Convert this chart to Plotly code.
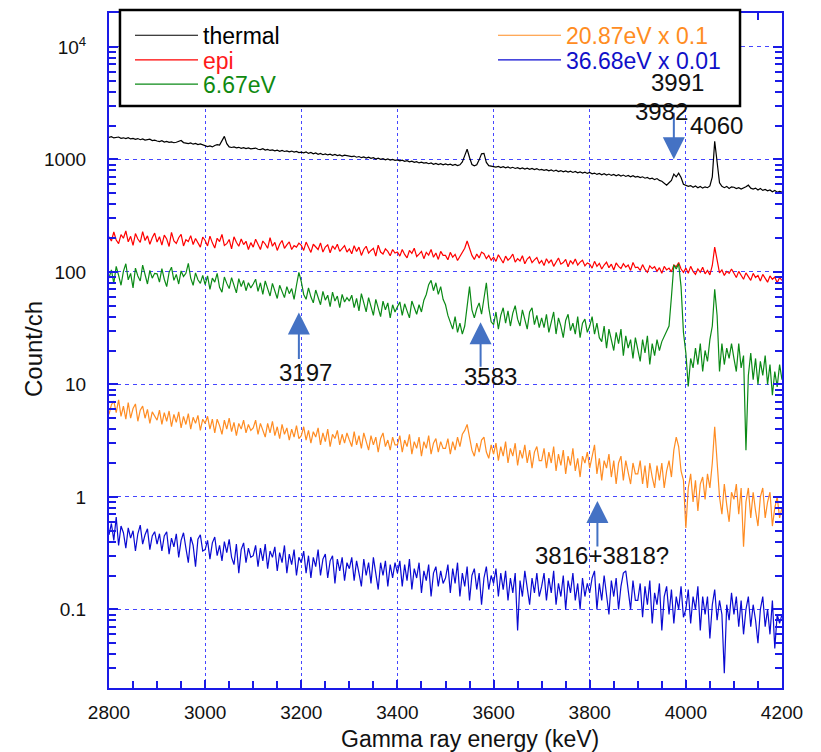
import math
import plotly.graph_objects as go

# Channel energies (keV), 5 keV bins
energy_kev = list(range(2800, 4201, 5))

# Count/ch per bin for each beam condition
thermal = [
    1570, 1590, 1550, 1565, 1580, 1540, 1555, 1530, 1560, 1520, 1535, 1505, 1530, 1495, 1520, 1485, 1500, 1510, 1470, 1480,
    1455, 1440, 1465, 1425, 1445, 1415, 1430, 1405, 1420, 1435, 1470, 1410, 1390, 1380, 1400, 1365, 1385, 1355, 1370, 1345,
    1325, 1300, 1315, 1290, 1330, 1350, 1340, 1480, 1600, 1380, 1290, 1275, 1290, 1265, 1280, 1255, 1270, 1245, 1265, 1240,
    1245, 1260, 1230, 1220, 1245, 1210, 1225, 1200, 1215, 1190, 1205, 1180, 1200, 1175, 1190, 1165, 1185, 1160, 1175, 1150,
    1160, 1145, 1165, 1130, 1150, 1120, 1140, 1110, 1130, 1100, 1120, 1095, 1110, 1085, 1105, 1080, 1095, 1070, 1090, 1075,
    1075, 1060, 1070, 1045, 1060, 1035, 1050, 1025, 1045, 1020, 1035, 1005, 1025, 1000, 1015, 990, 1010, 985, 1000, 980,
    990, 970, 985, 960, 975, 950, 965, 940, 955, 930, 945, 925, 935, 915, 930, 905, 920, 900, 915, 895,
    910, 895, 905, 885, 900, 880, 895, 950, 1080, 1230, 1040, 900, 875, 895, 990, 1120, 1130, 940, 880, 870,
    870, 855, 865, 845, 860, 840, 855, 835, 850, 830, 845, 825, 840, 820, 835, 815, 830, 810, 825, 805,
    815, 800, 810, 790, 805, 785, 800, 780, 795, 775, 790, 770, 785, 765, 780, 760, 775, 755, 770, 750,
    765, 745, 755, 735, 750, 730, 745, 725, 740, 720, 735, 715, 730, 710, 725, 705, 720, 700, 715, 695,
    705, 690, 700, 680, 690, 670, 680, 660, 675, 650, 640, 610, 590, 620, 650, 740, 700, 755, 690, 600,
    590, 575, 585, 565, 580, 560, 575, 555, 570, 560, 580, 700, 1450, 980, 620, 575, 560, 575, 550, 570,
    565, 550, 560, 545, 555, 570, 590, 555, 545, 555, 535, 550, 530, 540, 525, 535, 515, 530, 510, 520,
    510,
]

epi = [
    205, 188, 226, 192, 178, 214, 199, 231, 185, 207, 172, 219, 196, 183, 228, 190, 209, 176, 201, 221,
    184, 205, 173, 212, 196, 168, 224, 188, 179, 201, 215, 170, 193, 186, 210, 175, 198, 181, 166, 204,
    190, 170, 208, 181, 163, 199, 186, 215, 172, 178, 194, 160, 205, 183, 169, 196, 175, 187, 158, 182,
    166, 195, 172, 158, 188, 177, 162, 201, 169, 183, 155, 176, 190, 162, 174, 185, 158, 171, 166, 180,
    172, 155, 184, 163, 149, 176, 168, 158, 181, 150, 166, 174, 148, 170, 159, 176, 152, 163, 171, 150,
    160, 145, 171, 152, 166, 140, 158, 169, 147, 155, 162, 138, 173, 150, 144, 160, 152, 139, 158, 147,
    150, 138, 158, 143, 133, 155, 146, 162, 137, 144, 152, 131, 149, 141, 158, 135, 147, 129, 152, 140,
    140, 128, 149, 135, 143, 126, 138, 148, 162, 188, 165, 140, 129, 144, 133, 150, 145, 131, 140, 127,
    135, 124, 142, 129, 120, 138, 127, 133, 144, 122, 131, 125, 139, 118, 130, 136, 121, 128, 134, 119,
    126, 114, 131, 120, 128, 112, 124, 133, 117, 121, 129, 111, 126, 118, 130, 115, 122, 127, 113, 120,
    117, 108, 124, 112, 119, 106, 115, 122, 109, 117, 104, 120, 112, 107, 118, 110, 115, 103, 121, 109,
    110, 103, 116, 105, 99, 113, 107, 111, 101, 109, 97, 112, 104, 108, 100, 115, 111, 121, 106, 99,
    108, 97, 112, 101, 95, 106, 99, 110, 96, 103, 94, 114, 166, 128, 98, 104, 93, 101, 97, 106,
    96, 89, 101, 92, 86, 98, 91, 84, 97, 89, 93, 83, 95, 88, 81, 92, 86, 90, 80, 89,
    84,
]

res_6_67ev = [
    88, 104, 79, 112, 93, 76, 101, 118, 85, 97, 72, 108, 92, 83, 115, 94, 78, 103, 88, 97,
    96, 81, 107, 86, 74, 99, 110, 84, 95, 78, 102, 91, 97, 119, 88, 76, 98, 85, 79, 93,
    77, 92, 70, 88, 81, 97, 73, 66, 90, 79, 71, 89, 76, 65, 87, 74, 84, 68, 80, 72,
    78, 86, 67, 80, 63, 83, 71, 61, 79, 69, 58, 76, 66, 59, 74, 64, 71, 57, 76, 99,
    82, 63, 57, 72, 60, 53, 69, 58, 51, 67, 56, 62, 49, 66, 55, 61, 48, 63, 54, 59,
    55, 62, 48, 58, 45, 64, 52, 44, 59, 50, 41, 57, 48, 40, 55, 46, 53, 39, 51, 44,
    49, 54, 41, 52, 45, 39, 55, 47, 42, 51, 44, 56, 63, 77, 84, 68, 80, 63, 74, 57,
    51, 41, 36, 31, 40, 29, 35, 28, 33, 50, 74, 46, 39, 47, 53, 42, 61, 80, 48, 36,
    34, 44, 31, 41, 48, 35, 45, 33, 43, 50, 38, 33, 46, 37, 31, 44, 48, 34, 41, 32,
    39, 32, 42, 29, 36, 44, 28, 39, 33, 26, 37, 42, 30, 35, 28, 40, 26, 35, 38, 29,
    33, 40, 28, 35, 26, 24, 33, 21, 31, 25, 20, 29, 23, 31, 18, 27, 21, 25, 17, 26,
    21, 16, 25, 19, 27, 15, 23, 18, 25, 20, 24, 27, 30, 33, 60, 115, 106, 118, 74, 29,
    19, 9.6, 17, 14, 21, 15, 23, 13, 20, 16, 25, 33, 70, 41, 13, 23, 15, 21, 17, 23,
    17, 13, 23, 14, 18, 2.6, 12, 19, 11, 17, 10, 16, 12, 18, 10, 15, 8, 13, 9.5, 15,
    11,
]

res_20_87ev_x01 = [
    5.4, 6.6, 7.1, 5.6, 7.3, 5.2, 6.4, 4.9, 6.9, 5.0, 6.1, 6.7, 4.7, 5.9, 6.4, 5.0, 6.0, 4.5, 5.7, 5.2,
    4.8, 5.9, 4.4, 5.6, 4.7, 5.8, 4.2, 5.4, 4.6, 5.7, 4.1, 5.2, 4.4, 5.5, 4.0, 5.1, 4.5, 5.3, 3.9, 4.9,
    4.5, 5.2, 4.0, 4.9, 3.7, 4.9, 4.3, 3.6, 4.8, 4.0, 5.0, 3.8, 4.6, 3.5, 4.5, 4.0, 4.8, 3.7, 4.4, 3.9,
    4.1, 4.8, 3.6, 4.5, 3.9, 3.4, 4.5, 3.7, 4.7, 3.5, 4.2, 3.3, 4.4, 3.6, 4.1, 3.2, 4.0, 3.4, 4.3, 3.3,
    3.5, 4.2, 3.2, 3.9, 3.0, 3.8, 3.4, 4.1, 2.9, 3.7, 3.1, 4.0, 2.8, 3.6, 3.3, 3.9, 2.9, 3.6, 3.0, 3.7,
    3.2, 2.8, 3.8, 2.9, 3.5, 2.7, 3.7, 3.1, 2.6, 3.5, 2.9, 3.4, 2.5, 3.3, 3.7, 2.8, 3.2, 2.6, 3.4, 2.9,
    2.9, 3.5, 2.5, 3.2, 2.8, 3.6, 2.4, 3.1, 2.7, 3.4, 2.3, 3.1, 2.7, 3.5, 2.4, 3.0, 3.3, 2.5, 3.1, 2.7,
    2.7, 3.3, 2.4, 3.1, 2.6, 3.4, 2.8, 3.6, 3.9, 4.4, 3.3, 2.6, 2.3, 3.0, 2.5, 3.2, 3.4, 2.5, 2.2, 2.9,
    2.4, 3.0, 2.1, 2.8, 2.3, 3.1, 2.0, 2.7, 2.3, 3.0, 1.9, 2.6, 2.2, 2.9, 2.0, 2.6, 1.8, 2.5, 2.8, 2.1,
    2.1, 2.7, 1.8, 2.5, 2.0, 2.8, 1.7, 2.4, 1.9, 2.6, 1.6, 2.3, 1.9, 2.7, 1.7, 2.2, 1.5, 2.3, 2.0, 2.5,
    1.8, 2.3, 2.9, 1.6, 2.2, 1.4, 2.1, 1.8, 2.4, 1.5, 2.1, 1.3, 2.0, 2.3, 1.4, 2.1, 1.7, 1.3, 2.0, 1.6,
    1.6, 2.1, 1.3, 1.9, 1.2, 2.0, 1.5, 1.2, 1.9, 1.4, 2.0, 1.2, 1.7, 2.1, 1.5, 2.6, 3.4, 2.8, 1.7, 1.4,
    0.53, 1.2, 1.6, 0.9, 1.4, 0.75, 1.3, 1.5, 0.95, 1.6, 1.2, 2.0, 4.2, 1.8, 1.0, 0.7, 1.3, 0.85, 0.6, 1.1,
    0.95, 1.3, 0.7, 1.2, 0.36, 0.9, 1.2, 0.65, 1.1, 0.75, 0.55, 1.0, 1.2, 0.65, 0.9, 1.1, 0.55, 0.8, 1.0, 0.65,
    0.8,
]

res_36_68ev_x001 = [
    0.46, 0.58, 0.41, 0.66, 0.37, 0.55, 0.48, 0.35, 0.53, 0.43, 0.50, 0.33, 0.47, 0.56, 0.38, 0.46, 0.52, 0.34, 0.45, 0.49,
    0.38, 0.47, 0.33, 0.45, 0.49, 0.31, 0.43, 0.36, 0.47, 0.29, 0.41, 0.48, 0.35, 0.26, 0.44, 0.37, 0.24, 0.42, 0.46, 0.33,
    0.34, 0.41, 0.28, 0.39, 0.44, 0.30, 0.37, 0.27, 0.40, 0.32, 0.42, 0.29, 0.25, 0.38, 0.21, 0.34, 0.39, 0.26, 0.35, 0.29,
    0.30, 0.37, 0.24, 0.35, 0.27, 0.38, 0.23, 0.33, 0.29, 0.36, 0.22, 0.32, 0.26, 0.37, 0.21, 0.31, 0.25, 0.34, 0.20, 0.29,
    0.26, 0.33, 0.21, 0.30, 0.19, 0.29, 0.24, 0.34, 0.20, 0.28, 0.31, 0.19, 0.27, 0.30, 0.17, 0.28, 0.22, 0.29, 0.18, 0.26,
    0.23, 0.29, 0.18, 0.27, 0.21, 0.16, 0.28, 0.20, 0.26, 0.17, 0.29, 0.21, 0.15, 0.26, 0.20, 0.27, 0.16, 0.25, 0.19, 0.26,
    0.21, 0.27, 0.16, 0.25, 0.18, 0.28, 0.15, 0.23, 0.19, 0.26, 0.14, 0.22, 0.18, 0.25, 0.13, 0.21, 0.24, 0.16, 0.22, 0.17,
    0.19, 0.25, 0.14, 0.23, 0.17, 0.26, 0.13, 0.21, 0.16, 0.24, 0.12, 0.20, 0.23, 0.15, 0.21, 0.11, 0.19, 0.24, 0.15, 0.20,
    0.17, 0.23, 0.13, 0.21, 0.15, 0.22, 0.12, 0.19, 0.14, 0.21, 0.065, 0.18, 0.13, 0.22, 0.16, 0.11, 0.19, 0.14, 0.21, 0.13,
    0.16, 0.21, 0.12, 0.19, 0.14, 0.22, 0.11, 0.17, 0.13, 0.20, 0.10, 0.18, 0.14, 0.21, 0.12, 0.17, 0.10, 0.19, 0.13, 0.17,
    0.14, 0.19, 0.22, 0.10, 0.17, 0.12, 0.20, 0.14, 0.09, 0.18, 0.13, 0.19, 0.10, 0.16, 0.21, 0.22, 0.14, 0.10, 0.18, 0.12,
    0.12, 0.17, 0.085, 0.16, 0.11, 0.18, 0.075, 0.14, 0.11, 0.17, 0.065, 0.13, 0.16, 0.09, 0.15, 0.075, 0.13, 0.10, 0.16, 0.085,
    0.10, 0.15, 0.075, 0.13, 0.10, 0.16, 0.065, 0.13, 0.09, 0.13, 0.055, 0.11, 0.15, 0.08, 0.12, 0.09, 0.027, 0.11, 0.08, 0.14,
    0.09, 0.13, 0.07, 0.12, 0.06, 0.10, 0.13, 0.07, 0.11, 0.08, 0.05, 0.10, 0.13, 0.07, 0.10, 0.06, 0.12, 0.045, 0.09, 0.075,
    0.09,
]

# Axis tick labels
y_tick_values = [0.1, 1, 10, 100, 1000, 10000]
y_tick_text = ["0.1", "1", "10", "100", "1000", "10<sup>4</sup>"]

# Peak markers: (arrow tip energy, arrow tip count, tail offset px) and labels
peak_arrows = [
    (3975, 1000, -48),
    (3195, 43.6, 48),
    (3573, 35.6, 46),
    (3816, 0.92, 47),
]
peak_labels = [
    ("3991", 3982, 4860),
    ("3982", 3949, 2680),
    ("4060", 4063, 2010),
    ("3197", 3208, 12.8),
    ("3583", 3593, 11.75),
    ("3816+3818?", 3826, 0.30),
]

AXIS_BLUE = "#1a1ae6"
GRID_BLUE = "#4646ff"
ARROW_BLUE = "#4472C4"
FONT = "Liberation Sans, Arial, sans-serif"

# name, values, line colour, legend text colour, legend id, legend x/y (paper)
series = [
    ("thermal", thermal, "#000000", "#000000", "legend", 0.0312, 0.9670),
    ("epi", epi, "#ff0000", "#ff1a1a", "legend2", 0.0312, 0.9304),
    ("6.67eV", res_6_67ev, "#0b8a16", "#108a10", "legend3", 0.0312, 0.8945),
    ("20.87eV x 0.1", res_20_87ev_x01, "#ff8c22", "#ff8c22", "legend4", 0.5706, 0.9670),
    ("36.68eV x 0.01", res_36_68ev_x001, "#0a0ad2", "#1010c8", "legend5", 0.5706, 0.9304),
]

fig = go.Figure()
legend_layouts = {}
for name, values, color, text_color, leg, lx, ly in series:
    fig.add_trace(go.Scatter(
        x=energy_kev, y=values, mode="lines", name=name,
        line=dict(color=color, width=1.2), legend=leg, showlegend=True,
    ))
    legend_layouts[leg] = dict(
        x=lx, y=ly, xanchor="left", yanchor="middle",
        bgcolor="rgba(0,0,0,0)", borderwidth=0, itemwidth=63,
        font=dict(family=FONT, size=23, color=text_color),
    )

# legend frame
fig.add_shape(type="rect", xref="paper", yref="paper",
              x0=0.0163, x1=0.9376, y0=0.8622, y1=1.0044,
              line=dict(color="black", width=2.5), fillcolor="white", layer="above")

annotations = []
for ex, cnt, off in peak_arrows:
    annotations.append(dict(
        x=ex, y=math.log10(cnt), xref="x", yref="y", text="", showarrow=True,
        ax=0, ay=off, arrowhead=2, arrowsize=2.2, arrowwidth=2, arrowcolor=ARROW_BLUE,
    ))
for txt, ex, cnt in peak_labels:
    annotations.append(dict(
        x=ex, y=math.log10(cnt), xref="x", yref="y", text=txt, showarrow=False,
        font=dict(family=FONT, size=24, color="#111111"), xanchor="center", yanchor="middle",
    ))
annotations.append(dict(
    x=0.5364, y=-0.0756, xref="paper", yref="paper", text="Gamma ray energy (keV)",
    showarrow=False, font=dict(family=FONT, size=23, color="#111111"),
    xanchor="center", yanchor="middle",
))
annotations.append(dict(
    x=-0.1129, y=0.5022, xref="paper", yref="paper", text="Count/ch", textangle=-90,
    showarrow=False, font=dict(family=FONT, size=24, color="#111111"),
    xanchor="center", yanchor="middle",
))

minor_y = []
for dec in [0.01, 0.1, 1, 10, 100, 1000, 10000]:
    for m in range(2, 10):
        minor_y.append(dec * m)

fig.update_layout(
    width=821, height=752,
    margin=dict(l=109, r=39, t=13, b=64, autoexpand=False),
    paper_bgcolor="white", plot_bgcolor="white",
    font=dict(family=FONT, size=19, color="#111111"),
    showlegend=True,
    annotations=annotations,
    **legend_layouts,
)
fig.update_xaxes(
    range=[2800, 4200], tick0=2800, dtick=200, ticks="inside", ticklen=8,
    tickwidth=1.5, tickcolor=AXIS_BLUE, showline=True, linecolor=AXIS_BLUE, linewidth=2,
    mirror="ticks", showgrid=True, gridcolor=GRID_BLUE, griddash="3px,3px", gridwidth=1.3,
    zeroline=False, ticklabelstandoff=6,
    minor=dict(dtick=50, tick0=2800, ticks="inside", ticklen=7, tickcolor=AXIS_BLUE, tickwidth=1.5, showgrid=False),
)
fig.update_yaxes(
    type="log", range=[-1.699, 4.301], tickmode="array", tickvals=y_tick_values, ticktext=y_tick_text,
    ticks="inside", ticklen=9, tickwidth=1.5, tickcolor=AXIS_BLUE, showline=True, linecolor=AXIS_BLUE,
    linewidth=2, mirror="ticks", showgrid=True, gridcolor=GRID_BLUE, griddash="4px,4px", gridwidth=1.2,
    zeroline=False, ticklabelstandoff=17,
    minor=dict(tickmode="array", tickvals=minor_y, ticks="inside", ticklen=7, tickcolor=AXIS_BLUE,
               tickwidth=1.5, showgrid=False),
)

fig.write_html("out.html")
